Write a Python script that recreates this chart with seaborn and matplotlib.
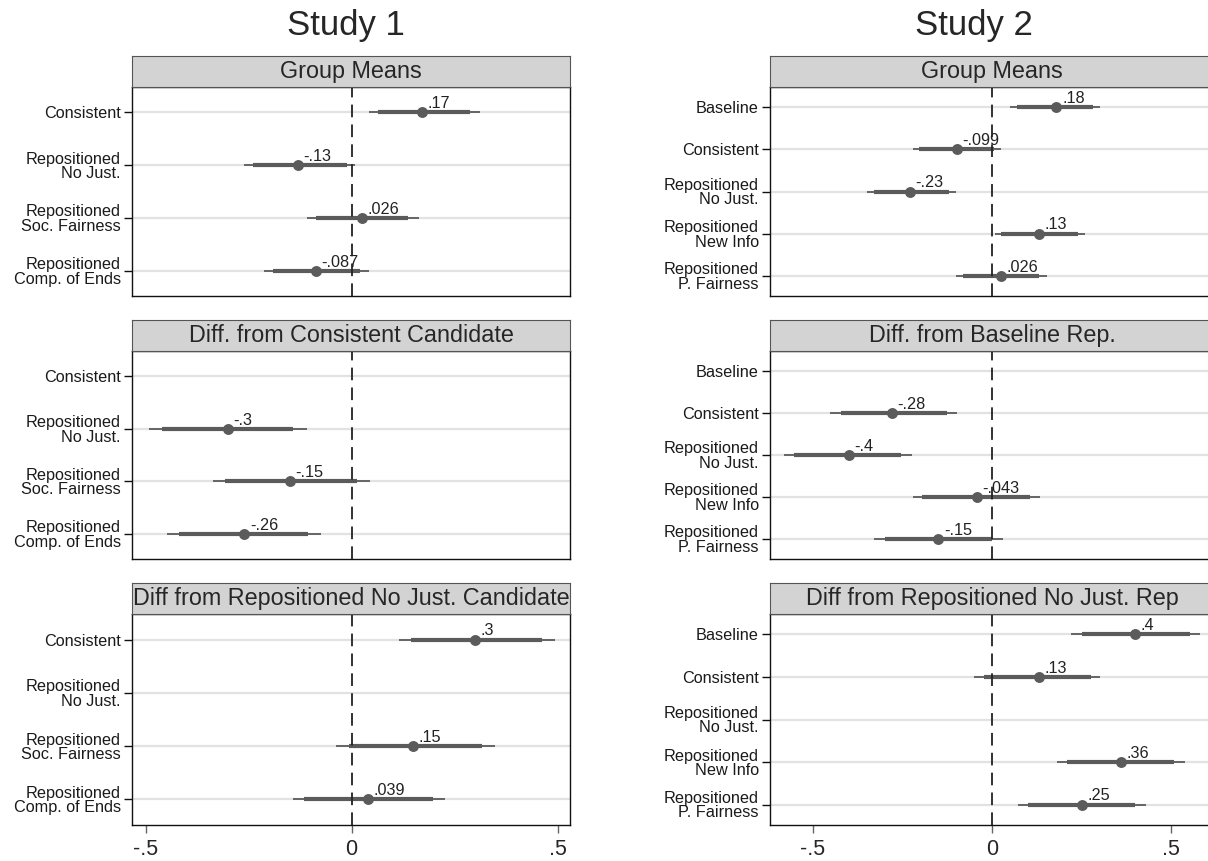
import numpy as np
import pandas as pd
import matplotlib
matplotlib.use("Agg")
import matplotlib.pyplot as plt
import seaborn as sns

# category labels
study1_labels = ["Consistent", "Repositioned\nNo Just.", "Repositioned\nSoc. Fairness",
                 "Repositioned\nComp. of Ends"]
study2_labels = ["Baseline", "Consistent", "Repositioned\nNo Just.", "Repositioned\nNew Info",
                 "Repositioned\nP. Fairness"]

study1_titles = ["Group Means", "Diff. from Consistent Candidate",
                 "Diff from Repositioned No Just. Candidate"]
study2_titles = ["Group Means", "Diff. from Baseline Rep.", "Diff from Repositioned No Just. Rep"]

nan = np.nan

# Study 1 - group means
s1_means_est = [0.17, -0.13, 0.026, -0.087]
s1_means_lo95 = [0.041, -0.262, -0.109, -0.213]
s1_means_lo90 = [0.065, -0.239, -0.086, -0.191]
s1_means_hi90 = [0.288, -0.012, 0.138, 0.020]
s1_means_hi95 = [0.311, 0.009, 0.163, 0.041]

# Study 1 - diff from consistent
s1_cons_est = [nan, -0.30, -0.15, -0.26]
s1_cons_lo95 = [nan, -0.491, -0.337, -0.448]
s1_cons_lo90 = [nan, -0.461, -0.307, -0.418]
s1_cons_hi90 = [nan, -0.142, 0.013, -0.107]
s1_cons_hi95 = [nan, -0.109, 0.045, -0.075]

# Study 1 - diff from repositioned no just.
s1_nojust_est = [0.30, nan, 0.15, 0.039]
s1_nojust_lo95 = [0.114, nan, -0.037, -0.143]
s1_nojust_lo90 = [0.144, nan, -0.007, -0.116]
s1_nojust_hi90 = [0.463, nan, 0.317, 0.197]
s1_nojust_hi95 = [0.494, nan, 0.347, 0.227]

# Study 2 - group means
s2_means_est = [0.18, -0.099, -0.23, 0.13, 0.026]
s2_means_lo95 = [0.051, -0.222, -0.350, 0.008, -0.101]
s2_means_lo90 = [0.070, -0.203, -0.330, 0.025, -0.081]
s2_means_hi90 = [0.281, 0.005, -0.121, 0.240, 0.132]
s2_means_hi95 = [0.303, 0.025, -0.101, 0.260, 0.155]

# Study 2 - diff from baseline
s2_base_est = [nan, -0.28, -0.40, -0.043, -0.15]
s2_base_lo95 = [nan, -0.452, -0.582, -0.222, -0.330]
s2_base_lo90 = [nan, -0.422, -0.552, -0.195, -0.300]
s2_base_hi90 = [nan, -0.127, -0.254, 0.106, 0.000]
s2_base_hi95 = [nan, -0.097, -0.224, 0.135, 0.030]

# Study 2 - diff from repositioned no just.
s2_nojust_est = [0.40, 0.13, nan, 0.36, 0.25]
s2_nojust_lo95 = [0.222, -0.049, nan, 0.181, 0.073]
s2_nojust_lo90 = [0.252, -0.022, nan, 0.209, 0.101]
s2_nojust_hi90 = [0.552, 0.276, nan, 0.509, 0.400]
s2_nojust_hi95 = [0.582, 0.303, nan, 0.538, 0.431]

x_ticks = [-0.5, 0, 0.5]
x_ticklabels = ["-.5", "0", ".5"]

DOT = "#5b5b5b"
W, H = 1208, 861

sns.set_style("white")
plt.rcParams["font.family"] = ["Liberation Sans", "DejaVu Sans"]


def fmt(v):
    return f"{v:.2g}".replace("0.", ".", 1)


def px_box(x0, x1, y0, y1):
    return [x0 / W, 1 - y1 / H, (x1 - x0) / W, (y1 - y0) / H]


def draw_panel(fig, x0, x1, strip_top, top, bottom, title, labels, est, lo95, lo90, hi90, hi95,
               xlim, show_x):
    df = pd.DataFrame({"label": labels, "est": est, "lo95": lo95, "lo90": lo90,
                       "hi90": hi90, "hi95": hi95})
    df["pos"] = np.arange(len(df))
    d = df.dropna()

    ax = fig.add_axes(px_box(x0, x1, top, bottom))
    for y in df["pos"]:
        ax.axhline(y, color="#e2e2e2", lw=1.6, zorder=0)
    ax.hlines(d["pos"], d["lo95"], d["hi95"], color=DOT, lw=1.3, zorder=2)
    ax.hlines(d["pos"], d["lo90"], d["hi90"], color=DOT, lw=3.0, zorder=3)
    sns.scatterplot(data=d, x="est", y="pos", ax=ax, color=DOT, s=62, linewidth=0,
                    zorder=4, legend=False)
    for _, r in d.iterrows():
        ax.annotate(fmt(r["est"]), (r["est"], r["pos"]), xytext=(4, 3),
                    textcoords="offset points", ha="left", va="baseline",
                    fontsize=11.7, color="#222222", zorder=4)
    ax.axvline(0, color="#222222", lw=1.3, ls=(0, (7, 4)), zorder=5)

    ax.set_xlim(xlim)
    ax.set_ylim(len(df) - 1 + 0.48, -0.48)
    ax.set_yticks(df["pos"])
    ax.set_yticklabels(df["label"], fontsize=11.7, linespacing=0.95, color="#1a1a1a")
    ax.tick_params(axis="y", left=True, length=6, width=1.0, color="#111111", pad=2)
    if show_x:
        ax.set_xticks(x_ticks)
        ax.set_xticklabels(x_ticklabels, fontsize=15.5)
        ax.tick_params(axis="x", bottom=True, length=6, width=1.0, color="#666666", pad=4)
    else:
        ax.set_xticks([])
    ax.set_xlabel("")
    ax.set_ylabel("")
    for s in ax.spines.values():
        s.set_color("#111111")
        s.set_linewidth(1.0)

    strip = fig.add_axes(px_box(x0, x1, strip_top, top))
    strip.set_facecolor("#d3d3d3")
    strip.set_xticks([])
    strip.set_yticks([])
    for s in strip.spines.values():
        s.set_color("#555555")
        s.set_linewidth(0.8)
    strip.text(0.5, 0.5, title, ha="center", va="center", fontsize=16.8,
               transform=strip.transAxes, clip_on=False)


fig = plt.figure(figsize=(W / 100, H / 100), dpi=100)

rows = [(56, 87, 296), (320, 351, 559), (583, 614, 825)]

s1_data = [
    (s1_means_est, s1_means_lo95, s1_means_lo90, s1_means_hi90, s1_means_hi95),
    (s1_cons_est, s1_cons_lo95, s1_cons_lo90, s1_cons_hi90, s1_cons_hi95),
    (s1_nojust_est, s1_nojust_lo95, s1_nojust_lo90, s1_nojust_hi90, s1_nojust_hi95),
]
s2_data = [
    (s2_means_est, s2_means_lo95, s2_means_lo90, s2_means_hi90, s2_means_hi95),
    (s2_base_est, s2_base_lo95, s2_base_lo90, s2_base_hi90, s2_base_hi95),
    (s2_nojust_est, s2_nojust_lo95, s2_nojust_lo90, s2_nojust_hi90, s2_nojust_hi95),
]

for i, (st, tp, bt) in enumerate(rows):
    draw_panel(fig, 132, 570, st, tp, bt, study1_titles[i], study1_labels, *s1_data[i],
               xlim=(-0.533, 0.53), show_x=(i == 2))
    draw_panel(fig, 770, 1214, st, tp, bt, study2_titles[i], study2_labels, *s2_data[i],
               xlim=(-0.62, 0.62), show_x=(i == 2))

fig.text(346 / W, 1 - 26 / H, "Study 1", ha="center", va="center", fontsize=25)
fig.text(974 / W, 1 - 26 / H, "Study 2", ha="center", va="center", fontsize=25)

fig.savefig("out.png", dpi=100)
